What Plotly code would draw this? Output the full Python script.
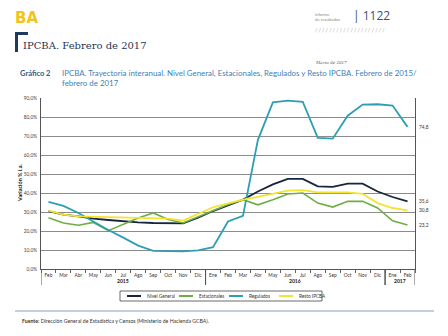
import plotly.graph_objects as go

years = ["2015"] * 11 + ["2016"] * 12 + ["2017"] * 2
months = ["Feb", "Mar", "Abr", "May", "Jun", "Jul", "Ago", "Sep", "Oct", "Nov", "Dic",
          "Ene", "Feb", "Mar", "Abr", "May", "Jun", "Jul", "Ago", "Sep", "Oct", "Nov", "Dic",
          "Ene", "Feb"]
nivel_general = [30.5, 28.6, 27.7, 26.5, 25.8, 25.0, 24.5, 24.2, 24.0, 24.0, 27.0, 30.5,
                 33.5, 36.5, 40.8, 44.5, 47.4, 47.4, 43.5, 43.2, 44.9, 44.9, 40.8, 37.9, 35.6]
estacionales = [27.0, 24.2, 23.0, 24.5, 20.2, 23.7, 26.8, 29.5, 26.0, 24.2, 27.5, 31.0,
                34.0, 36.5, 33.8, 36.5, 39.5, 40.0, 34.7, 32.6, 35.6, 35.6, 32.1, 25.4, 23.2]
regulados = [35.3, 33.2, 29.5, 25.0, 20.5, 16.5, 12.3, 9.5, 9.3, 9.3, 9.8, 11.5,
             25.0, 28.0, 68.0, 87.7, 88.6, 88.0, 69.0, 68.6, 80.7, 86.5, 86.7, 86.0, 74.8]
resto = [30.7, 28.6, 27.7, 27.5, 27.2, 27.0, 26.8, 26.8, 26.5, 25.5, 29.0, 32.5,
         34.5, 36.5, 38.0, 39.5, 41.2, 41.5, 40.3, 40.3, 40.3, 39.6, 34.7, 32.1, 30.8]
y_ticks = [0, 10, 20, 30, 40, 50, 60, 70, 80, 90]
y_ticktext = [f"{v:.1f}%".replace(".", ",") for v in y_ticks]

series = [
    ("Nivel General", nivel_general, "#17253d", 1.8),
    ("Estacionales", estacionales, "#6fae45", 1.6),
    ("Regulados", regulados, "#2e9fb2", 1.8),
    ("Resto IPCBA", resto, "#f4e431", 1.8),
]

# plot area in pixels
L, T, W, H = 41, 98, 374, 171
def px(x):
    return (x - L) / W
def py(y):
    return (T + H - y) / H

FONT = "Lato"
xs = list(range(len(months)))

fig = go.Figure()
for name, vals, col, w in series:
    fig.add_trace(go.Scatter(x=xs, y=vals, mode="lines", name=name,
                             line=dict(color=col, width=w), showlegend=False))

annotations = []
shapes = []
# end labels
for name, vals, col, w in series:
    annotations.append(dict(x=1.0, xref="paper", y=vals[-1], yref="y",
                            text=f"{vals[-1]:.1f}".replace(".", ","), showarrow=False,
                            xanchor="left", yanchor="middle", xshift=2,
                            font=dict(size=4.8, color="#333", family=FONT)))

# year group labels and dividers
groups = []
for i, yv in enumerate(years):
    if not groups or groups[-1][0] != yv:
        groups.append([yv, i, i])
    else:
        groups[-1][2] = i
for yv, i0, i1 in groups:
    annotations.append(dict(x=(i0 + i1) / 2, xref="x", y=py(281), yref="paper",
                            text=f"<b>{yv}</b>", showarrow=False, xanchor="center",
                            yanchor="middle", font=dict(size=5, color="#222", family=FONT)))
    for b in (i0 - 0.5, i1 + 0.5):
        shapes.append(dict(type="line", xref="x", yref="paper", x0=b, x1=b, y0=0, y1=py(285),
                           line=dict(color="#555", width=1)))

def note(x, y, text, size, color="#333", family=FONT, xanchor="left", yanchor="middle", angle=0):
    annotations.append(dict(x=px(x), y=py(y), xref="paper", yref="paper", text=text,
                            showarrow=False, xanchor=xanchor, yanchor=yanchor, textangle=angle,
                            font=dict(size=size, color=color, family=family)))

# header
note(13, 18, "<b>BA</b>", 15, color="#f3c31c", family="DejaVu Sans")
note(313, 14, "informe", 4.3, color="#888")
note(313, 19.5, "de resultados", 4.3, color="#888")
note(351, 16, "| 1122", 12, color="#3b5173", family="Open Sans")
note(313, 30, "/ " * 20, 5, color="#999")
note(21, 45, "IPCBA. Febrero de 2017", 10, color="#1f3550", family="DejaVu Serif")
note(313, 62, "<i>Marzo de 2017</i>", 4, color="#555", family="DejaVu Serif")
note(18, 73, "<b>Gráfico 2</b>", 7.5, color="#2a5d8a")
note(60, 73, "IPCBA. Trayectoria interanual. Nivel General, Estacionales, Regulados y Resto IPCBA. Febrero de 2015/",
     7.9, color="#3f7fb8")
note(60, 83, "febrero de 2017", 7.9, color="#3f7fb8")
note(20, 183, "<b>Variación % i.a.</b>", 5.5, color="#222", xanchor="center", angle=-90)
note(20, 321, "<b>Fuente:</b> Dirección General de Estadística y Censos (Ministerio de Hacienda GCBA).",
     5.2, color="#333")

shapes += [
    dict(type="rect", xref="paper", yref="paper", x0=px(15), x1=px(18), y0=py(52), y1=py(32),
         fillcolor="#1f3a5f", line=dict(width=0)),
    dict(type="rect", xref="paper", yref="paper", x0=px(15), x1=px(28), y0=py(35), y1=py(32),
         fillcolor="#1f3a5f", line=dict(width=0)),
    dict(type="line", xref="paper", yref="paper", x0=px(15), x1=px(434), y0=py(311), y1=py(311),
         line=dict(color="#8b9db3", width=1.2)),
    dict(type="rect", xref="paper", yref="paper", x0=px(120), x1=px(322), y0=py(301), y1=py(291),
         line=dict(color="#444", width=0.8)),
]
# legend
leg_x = [127, 179, 229, 279]
for (name, vals, col, w), lx in zip(series, leg_x):
    shapes.append(dict(type="line", xref="paper", yref="paper", x0=px(lx), x1=px(lx + 14),
                       y0=py(296), y1=py(296), line=dict(color=col, width=2)))
    note(lx + 18, 296, name, 4.7, color="#333")

fig.update_layout(
    width=448, height=336,
    margin=dict(l=L, r=448 - L - W, t=T, b=336 - T - H),
    paper_bgcolor="white", plot_bgcolor="white",
    annotations=annotations, shapes=shapes,
    xaxis=dict(range=[-0.5, len(months) - 0.5], tickvals=xs, ticktext=months, tickangle=0,
               ticks="", tickfont=dict(size=4.8, color="#333", family=FONT),
               minor=dict(tick0=0.5, dtick=1, ticks="outside", ticklen=3, tickcolor="#666",
                          showgrid=False),
               showline=True, linecolor="#555", linewidth=1, showgrid=False, zeroline=False,
               ticklabelstandoff=1),
    yaxis=dict(range=[0, 90], tickvals=y_ticks, ticktext=y_ticktext,
               tickfont=dict(size=4.8, color="#444", family=FONT),
               showgrid=True, gridcolor="#8c8c8c", gridwidth=1, zeroline=False,
               showline=True, mirror=True, linecolor="#555", linewidth=1,
               ticks="", ticklabelstandoff=2),
)
fig.write_html("out.html")
